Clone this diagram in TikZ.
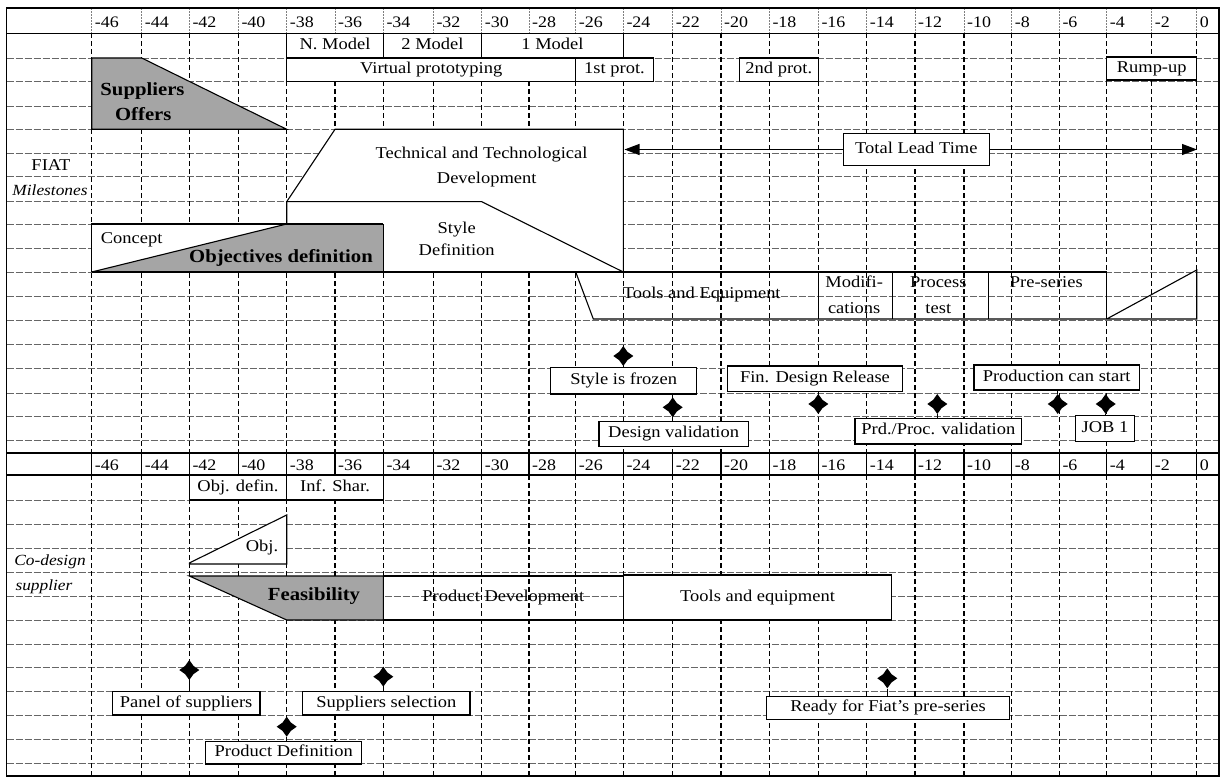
\documentclass[tikz,border=0pt]{standalone}
\usepackage{fontspec}
\setmainfont{Liberation Serif}[FakeStretch=1.12]
\usetikzlibrary{shapes.geometric,arrows.meta}
\definecolor{offgray}{RGB}{165,165,165}
% box node: name, x1, y1, x2, y2, style, text
\newcommand\boxnode[7]{\node[bx,#6, minimum width={#4-#2}, minimum height={#5-#3}] (#1) at ({(#2+#4)/2},{(#3+#5)/2}) {#7};}
\begin{document}
\begin{tikzpicture}[x=1pt,y=-1pt,
  rf/.style={font=\fontsize{16.5}{19}\selectfont},
  bf/.style={font=\bfseries\fontsize{18.5}{21}\selectfont},
  itf/.style={font=\itshape\fontsize{15.5}{18}\selectfont},
  txt/.style={inner sep=0pt, rf, text height=11pt, text depth=3.5pt},
  bx/.style={draw, fill=white, line width=1.1pt, inner sep=0pt, rf, text height=11pt, text depth=3.5pt},
  nofill/.style={fill=none},
  ms/.style={star, star points=4, star point ratio=1.7, fill=black, minimum size=20pt, inner sep=0pt},
  hdr/.style={font=\fontsize{16}{18}\selectfont, anchor=base west, inner sep=0pt},
  vgrid/.style={line width=1.3pt, dash pattern=on 5pt off 3pt},
  hgrid/.style={line width=0.6pt, black!60, dash pattern=on 7pt off 2pt},
  hsep/.style={line width=0.6pt, black!50, dash pattern=on 1.5pt off 1.5pt},
  frm/.style={line width=1.1pt},
  stm/.style={line width=1.1pt},
  ]
\useasboundingbox (0,0) rectangle (1223,778);

% ---------- grid ----------
\foreach \y in {58,81.7,106,129.3,153.3,176.7,201.7,224,248.5,272,296.5,320,344.5,368.3,393,416.7,440,500,524,548.3,572.7,596.7,620,644,667.7,691.7,715,739,763.3}
  \draw[hgrid] (6.5,\y) -- (1219,\y);
\foreach \x/\t [count=\i] in {91.7/-46,141.7/-44,189.3/-42,238.3/-40,286.7/-38,335/-36,383.3/-34,433.3/-32,481.7/-30,529/-28,575.7/-26,623.3/-24,672.7/-22,721/-20,769.3/-18,818.3/-16,866.7/-14,915/-12,964/-10,1011.7/-8,1059.3/-6,1106.7/-4,1151.7/-2,1196.7/0}
{
  \draw[vgrid] (\x,33.3) -- (\x,452.7);
  \draw[vgrid] (\x,475) -- (\x,776);
  \draw[hsep] (\x,8.3) -- (\x,33.3);
  \draw[frm] (\x,452.7) -- (\x,475);
  \node[hdr] (ht\i) at ({\x+3},28) {\t};
  \node[hdr] (hb\i) at ({\x+3},470) {\t};
}
\draw[line width=1.6pt] (6.5,8.3) rectangle (1219,776);
\draw[frm] (6.5,33.3) -- (1219,33.3);
\draw[line width=2pt] (6.5,452.7) -- (1219,452.7);
\draw[frm] (6.5,475) -- (1219,475);

% ---------- upper shapes ----------
\filldraw[fill=offgray, frm] (91.7,58) -- (141.7,58) -- (286.7,129.3) -- (91.7,129.3) -- cycle;
\fill[white] (286.7,201.7) -- (335,129.3) -- (623.3,129.3) -- (623.3,272) -- (91.7,272) -- (91.7,224) -- (286.7,224) -- cycle;
\fill[offgray] (91.7,272) -- (286.7,224) -- (383.3,224) -- (383.3,272) -- cycle;
\draw[frm] (286.7,224) -- (286.7,201.7) -- (335,129.3) -- (623.3,129.3) -- (623.3,272);
\draw[frm] (286.7,201.7) -- (481.7,201.7) -- (623.3,272);
\draw[frm] (91.7,272) -- (286.7,224);
\draw[frm] (383.3,224) -- (383.3,272);
\draw[frm] (91.7,272) -- (91.7,224) -- (383.3,224);
\draw[frm] (91.7,272) -- (1106.7,272);
\draw[frm] (575.7,272) -- (593.3,319) -- (1196.7,319) -- (1196.7,270) -- (1106.7,319);
\foreach \x in {818.3,892.7,988.3,1106.7} \draw[frm] (\x,272) -- (\x,319);

\boxnode{nm}{286.7}{33.3}{383.3}{58}{}{N. Model}
\boxnode{m2}{383.3}{33.3}{481.7}{58}{}{2 Model}
\boxnode{m1}{481.7}{33.3}{623.3}{58}{}{1 Model}
\boxnode{vp}{286.7}{58}{575.7}{81.7}{}{Virtual prototyping}
\boxnode{p1}{575.7}{58}{653.3}{81.7}{}{1st prot.}
\boxnode{p2}{739.3}{58}{818.3}{81.7}{}{2nd prot.}
\boxnode{ru}{1106.7}{57}{1196.7}{80}{}{Rump-up}

\node[txt,bf] (so1) at (142.5,91.7) {Suppliers};
\node[txt,bf] (so2) at (143.3,116.7) {Offers};
\node[txt] (tt1) at (481.5,155) {Technical and Technological};
\node[txt] (tt2) at (486.7,180) {Development};
\node[txt] (st1) at (456.7,229.3) {Style};
\node[txt] (st2) at (456.7,252) {Definition};
\node[txt] (cc) at (131.7,240) {Concept};
\node[txt,bf] (od) at (281,258.3) {Objectives definition};
\node[txt] (fiat) at (51,166.7) {FIAT};
\node[txt,itf] (mil) at (50,191.7) {Milestones};

\node[txt] (te) at (701.7,295) {Tools and Equipment};
\node[txt] (mo1) at (854.2,283.3) {Modifi-};
\node[txt] (mo2) at (854.2,309.3) {cations};
\node[txt] (pt1) at (938.3,283.3) {Process};
\node[txt] (pt2) at (938.3,309.3) {test};
\node[txt] (ps) at (1046.3,283.3) {Pre-series};

\boxnode{tlt}{843.3}{133.3}{989.3}{165.7}{}{Total Lead Time}
\coordinate (tlL) at (624.5,149.5);
\coordinate (tlR) at (1197,149.5);
\draw[frm,-{Triangle[length=15pt,width=11pt]}] (tlt.west) -- (tlL);
\draw[frm,-{Triangle[length=15pt,width=11pt]}] (tlt.east) -- (tlR);

% ---------- upper milestones ----------
\boxnode{b1}{550.7}{367.3}{696.7}{394}{}{Style is frozen}
\node[ms] (d1) at (623.3,356) {};
\draw[stm] (d1.south) -- (d1.south |- b1.north);
\boxnode{b2}{599}{421.7}{748.3}{446.7}{}{Design validation}
\node[ms] (d2) at (672.7,407.3) {};
\draw[stm] (d2.south) -- (d2.south |- b2.north);
\boxnode{b3}{727.3}{366}{902.7}{391.7}{}{Fin. Design Release}
\node[ms] (d3) at (818.3,404) {};
\draw[stm] (d3.north) -- (d3.north |- b3.south);
\boxnode{b4}{855}{418.3}{1021.7}{444}{}{Prd./Proc. validation}
\node[ms] (d4) at (937.3,404) {};
\draw[stm] (d4.south) -- (d4.south |- b4.north);
\boxnode{b5}{974}{365}{1139.3}{390}{}{Production can start}
\node[ms] (d5) at (1057.7,404) {};
\draw[stm] (d5.north) -- (d5.north |- b5.south);
\boxnode{b6}{1075.7}{415.7}{1134.3}{441.7}{}{JOB 1}
\node[ms] (d6) at (1105.7,404) {};
\draw[stm] (d6.south) -- (d6.south |- b6.north);

% ---------- lower part ----------
\node[txt,itf] (cod) at (50,561.7) {Co-design};
\node[txt,itf] (sup) at (44,586.7) {supplier};
\boxnode{odf}{189.3}{475}{286.7}{500}{}{Obj. defin.}
\boxnode{ish}{286.7}{475}{383.3}{500}{}{Inf. Shar.}
\filldraw[fill=white, frm] (189.3,563) -- (286.7,515) -- (286.7,564) -- (189.3,564) -- cycle;
\node[txt] (obj) at (262,548) {Obj.};
\filldraw[fill=offgray, frm] (189.3,576) -- (383.3,576) -- (383.3,620) -- (286.7,620) -- cycle;
\node[txt,bf] (fea) at (314,597) {Feasibility};
\boxnode{pd}{383.3}{576}{623.3}{620}{nofill}{Product Development}
\boxnode{tae}{623.3}{575}{891.7}{620}{}{Tools and equipment}

\boxnode{b7}{112.3}{691.7}{260}{715}{}{Panel of suppliers}
\node[ms] (d7) at (189.3,670) {};
\draw[stm] (d7.south) -- (d7.south |- b7.north);
\boxnode{b8}{302.7}{691.7}{470}{715}{}{Suppliers selection}
\node[ms] (d8) at (383.3,676.7) {};
\draw[stm] (d8.south) -- (d8.south |- b8.north);
\boxnode{b9}{205.7}{741.7}{361.7}{764}{}{Product Definition}
\node[ms] (d9) at (286.7,726.7) {};
\draw[stm] (d9.south) -- (d9.south |- b9.north);
\boxnode{b10}{766.7}{696.7}{1009.3}{719.3}{}{Ready for Fiat's pre-series}
\node[ms] (d10) at (887.3,678.3) {};
\draw[stm] (d10.south) -- (d10.south |- b10.north);
\end{tikzpicture}
\end{document}
